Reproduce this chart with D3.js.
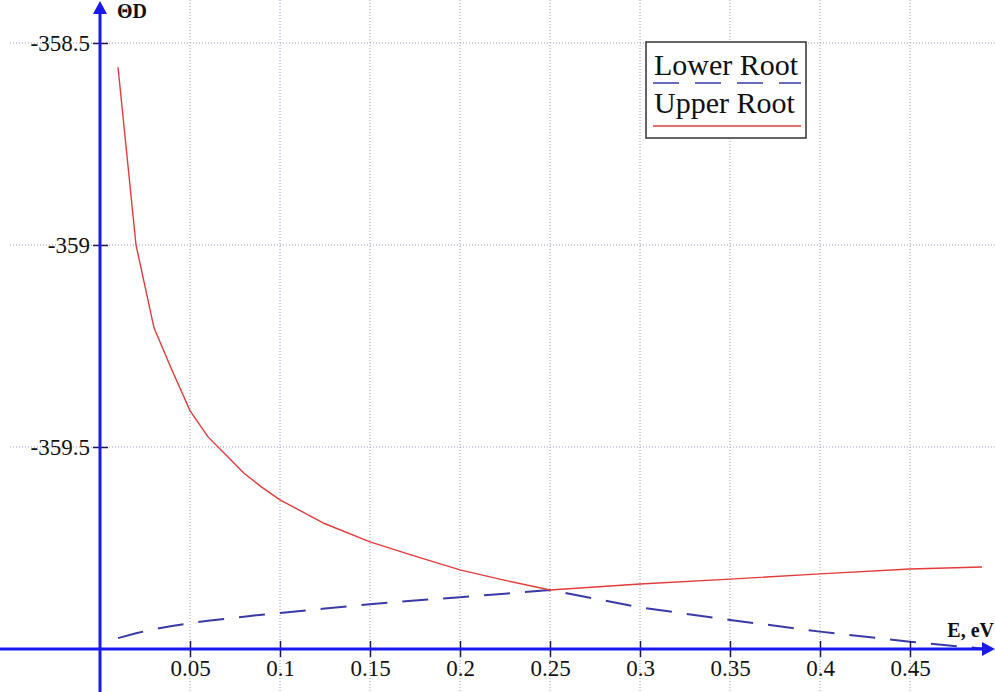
<!DOCTYPE html>
<html>
<head>
<meta charset="utf-8">
<script src="https://cdn.jsdelivr.net/npm/d3@7"></script>
<style>
  body { margin: 0; background: #fff; }
  text { font-family: "Liberation Serif", "Times New Roman", serif; }
</style>
</head>
<body>
<svg id="svg" width="995" height="692"></svg>
<script>
// energy, eV
var energy = [0.01, 0.02, 0.03, 0.04, 0.05, 0.06, 0.07, 0.08, 0.09, 0.1,
    0.125, 0.15, 0.175, 0.2, 0.225, 0.25, 0.3, 0.35, 0.4, 0.45, 0.49]

var upperRoot = [-358.56, -359.00, -359.205, -359.31, -359.41, -359.475, -359.52, -359.565, -359.60, -359.631,
    -359.69, -359.735, -359.77, -359.804, -359.83, -359.854, -359.839, -359.827, -359.814, -359.802, -359.797]

var lowerRoot = [-359.973, -359.961, -359.951, -359.943, -359.936, -359.930, -359.925, -359.920, -359.915, -359.911,
    -359.900, -359.889, -359.880, -359.872, -359.863, -359.854, -359.897, -359.928, -359.957, -359.982, -359.999]

var xTicks = [0.05, 0.1, 0.15, 0.2, 0.25, 0.3, 0.35, 0.4, 0.45]
var yTicks = [-358.5, -359, -359.5]

var svg = d3.select('#svg')
var W = 995, H = 692

var x = d3.scaleLinear().domain([0, 0.45]).range([100, 910])
var y = d3.scaleLinear().domain([-360, -358.5]).range([649, 43])

var axisColor = '#1a1aee'
var gridColor = '#9c9cc0'

// plain hyphen, not the unicode minus
var fmt = function(d) { return String(d) }

// grid
svg.append('g').selectAll('line.vg').data(xTicks).enter()
    .append('line')
    .attr('x1', function(d) { return x(d) }).attr('x2', function(d) { return x(d) })
    .attr('y1', 0).attr('y2', H)
    .style('stroke', gridColor).style('stroke-dasharray', '1,2')

svg.append('g').selectAll('line.hg').data(yTicks).enter()
    .append('line')
    .attr('x1', 10).attr('x2', W)
    .attr('y1', function(d) { return y(d) }).attr('y2', function(d) { return y(d) })
    .style('stroke', gridColor).style('stroke-dasharray', '1,2')

// curves
var pts = function(vals) {
    return energy.map(function(e, i) { return [e, vals[i]] })
}
var line = d3.line()
    .x(function(d) { return x(d[0]) })
    .y(function(d) { return y(d[1]) })

svg.append('path').datum(pts(lowerRoot))
    .attr('d', line)
    .style('fill', 'none').style('stroke', '#3a3aa6').style('stroke-width', 2)
    .style('stroke-dasharray', '26,15')

svg.append('path').datum(pts(upperRoot))
    .attr('d', line)
    .style('fill', 'none').style('stroke', '#e23b3b').style('stroke-width', 1.4)

// axes with ticks crossing the axis line
var gx = svg.append('g')
    .attr('transform', 'translate(0,' + y(-360) + ')')
    .call(d3.axisBottom(x).tickValues(xTicks).tickSize(8).tickPadding(3).tickFormat(fmt))
gx.select('.domain').remove()
gx.selectAll('.tick line').attr('y1', -8).style('stroke', '#1a1a5a').style('stroke-width', 1.5)
gx.selectAll('.tick text').style('font-size', '23px').style('fill', '#111')
    .style('font-family', '"Liberation Serif", serif')

var gy = svg.append('g')
    .attr('transform', 'translate(' + x(0) + ',0)')
    .call(d3.axisLeft(y).tickValues(yTicks).tickSize(7).tickPadding(3).tickFormat(fmt))
gy.select('.domain').remove()
gy.selectAll('.tick line').attr('x1', 8).style('stroke', '#1a1a5a').style('stroke-width', 1.5)
gy.selectAll('.tick text').style('font-size', '23px').style('fill', '#111')
    .style('font-family', '"Liberation Serif", serif')

// main axis lines
svg.append('line')
    .attr('x1', 0).attr('x2', W - 8)
    .attr('y1', y(-360)).attr('y2', y(-360))
    .style('stroke', axisColor).style('stroke-width', 3)
svg.append('line')
    .attr('x1', x(0)).attr('x2', x(0))
    .attr('y1', H).attr('y2', 10)
    .style('stroke', axisColor).style('stroke-width', 3)

// arrow heads
var ax = x(0), ay = y(-360)
svg.append('path')
    .attr('d', 'M' + ax + ',1 L' + (ax - 7) + ',14 L' + (ax + 7) + ',14 Z')
    .style('fill', axisColor)
svg.append('path')
    .attr('d', 'M' + W + ',' + ay + ' L' + (W - 13) + ',' + (ay - 7) + ' L' + (W - 13) + ',' + (ay + 7) + ' Z')
    .style('fill', axisColor)

// axis titles
svg.append('text').attr('x', 117).attr('y', 18)
    .style('font-size', '20px').style('font-weight', 'bold').style('fill', '#111')
    .text('ΘD')
svg.append('text').attr('x', W - 1).attr('y', 637).attr('text-anchor', 'end')
    .style('font-size', '20px').style('font-weight', 'bold').style('fill', '#111')
    .text('E, eV')

// legend
var lg = svg.append('g')
lg.append('rect').attr('x', 646).attr('y', 42).attr('width', 160).attr('height', 96)
    .style('fill', '#fff').style('stroke', '#333').style('stroke-width', 1.5)
lg.append('text').attr('x', 654).attr('y', 75).style('font-size', '30px').style('fill', '#111')
    .text('Lower Root')
lg.append('line').attr('x1', 653).attr('x2', 801).attr('y1', 83).attr('y2', 83)
    .style('stroke', '#3a3aa6').style('stroke-width', 1.6).style('stroke-dasharray', '26,16')
lg.append('text').attr('x', 654).attr('y', 113).style('font-size', '30px').style('fill', '#111')
    .text('Upper Root')
lg.append('line').attr('x1', 653).attr('x2', 801).attr('y1', 126).attr('y2', 126)
    .style('stroke', '#e23b3b').style('stroke-width', 1.6)
</script>
</body>
</html>
